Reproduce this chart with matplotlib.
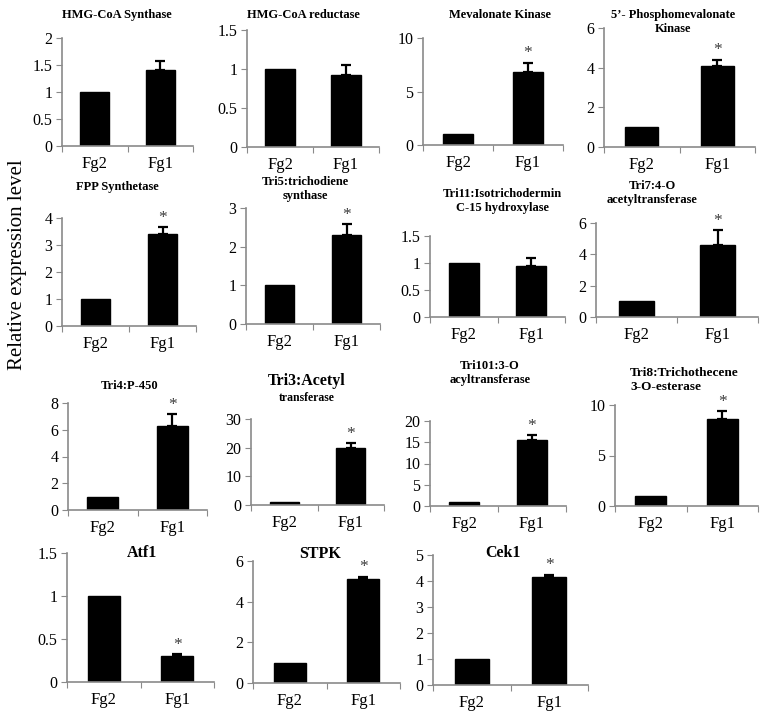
import matplotlib
matplotlib.use("Agg")
import matplotlib.pyplot as plt
from matplotlib.ticker import FuncFormatter

plt.rcParams['font.family'] = ['Liberation Serif', 'DejaVu Serif']

strains = ["Fg2", "Fg1"]

titles = ["HMG-CoA Synthase", "HMG-CoA reductase", "Mevalonate Kinase",
          "5\u2019- Phosphomevalonate\nKinase",
          "FPP Synthetase", "Tri5:trichodiene\nsynthase",
          "Tri11:Isotrichodermin\nC-15 hydroxylase", "Tri7:4-O\nacetyltransferase",
          "Tri4:P-450", "Tri3:Acetyl", "Tri101:3-O\nacyltransferase",
          "Tri8:Trichothecene\n3-O-esterase",
          "Atf1", "STPK", "Cek1"]
fg2_values = [1, 1, 1, 1, 1, 1, 1, 1, 1, 1, 1, 1, 1, 1, 1]
fg1_values = [1.4, 0.92, 6.8, 4.1, 3.4, 2.3, 0.95, 4.6, 6.3, 20, 15.5, 8.6, 0.3, 5.1, 4.15]
fg1_errors = [0.18, 0.13, 0.9, 0.3, 0.25, 0.28, 0.15, 0.95, 0.85, 1.5, 1.1, 0.8, 0.02, 0.12, 0.1]
y_max = [2, 1.5, 10, 6, 4, 3, 1.5, 6, 8, 30, 20, 10, 1.5, 6, 5]
y_step = [0.5, 0.5, 5, 2, 1, 1, 0.5, 2, 2, 10, 5, 5, 0.5, 2, 1]
significant = [False, False, True, True, True, True, False, True,
               True, True, True, True, True, True, True]

# axes boxes in pixels: left, right, top (y of max tick), bottom (y of 0)
boxes = [(62, 193, 38, 146), (247, 379, 30, 147), (423, 563, 38, 145), (604, 755, 28, 147),
         (62, 196, 218, 326), (246, 380, 208, 324), (430, 565, 236, 317), (596, 758, 223, 317),
         (68, 207, 403, 510), (251, 384, 419, 505), (430, 566, 421, 506), (615, 758, 405, 506),
         (67, 214, 553, 682), (253, 400, 561, 683), (433, 588, 555, 685)]
# title anchor in pixels: x centre, y centre
title_pos = [(117, 15), (303, 15), (500, 15), (673, 22),
             (117, 187), (305, 189), (502, 201), (652, 193),
             (130, 386), (307, 381), (490, 373), (630, 380),
             (142, 553), (320, 554), (503, 553)]

W, H = 766, 723
fig = plt.figure(figsize=(W / 100, H / 100), dpi=100)
spine_col = "#8a8a8a"

for i in range(len(titles)):
    l, r, t, b = boxes[i]
    ax = fig.add_axes([l / W, 1 - b / H, (r - l) / W, (b - t) / H])
    ax.bar([0.5, 1.5], [fg2_values[i], fg1_values[i]], width=0.44,
           color="black", edgecolor="black")
    ax.errorbar([1.5], [fg1_values[i]], yerr=[[0], [fg1_errors[i]]], fmt="none",
                ecolor="black", elinewidth=1.6, capsize=3.5, capthick=1.6)
    if significant[i]:
        top = fg1_values[i] + fg1_errors[i]
        ax.text(1.5, top + y_max[i] * 0.015, "*", ha="center", va="bottom",
                fontsize=12.5, color="#3c3c3c")
    ax.set_xlim(0, 2)
    ax.set_ylim(0, y_max[i])
    n = int(round(y_max[i] / y_step[i]))
    ax.set_yticks([k * y_step[i] for k in range(n + 1)])
    ax.yaxis.set_major_formatter(FuncFormatter(lambda v, p: "%g" % v))
    ax.set_xticks([0, 1, 2])
    ax.set_xticklabels([])
    ax.set_xticks([0.5, 1.5], minor=True)
    ax.set_xticklabels(strains, minor=True, fontsize=12)
    ax.tick_params(axis="x", which="minor", length=0, pad=7)
    ax.tick_params(axis="x", which="major", length=4, color=spine_col, direction="out")
    ax.tick_params(axis="y", length=4, color=spine_col, labelsize=11.5, pad=3)
    for s in ["top", "right"]:
        ax.spines[s].set_visible(False)
    for s in ["left", "bottom"]:
        ax.spines[s].set_color(spine_col)
        ax.spines[s].set_linewidth(1.2)

    tx, ty = title_pos[i]
    if i == 9:
        fig.text(tx / W, 1 - ty / H, "Tri3:Acetyl", ha="center", va="center",
                 fontsize=11.5, fontweight="bold")
        fig.text(tx / W, 1 - 398 / H, "transferase", ha="center", va="center",
                 fontsize=8.5, fontweight="bold")
    elif i == 11:
        fig.text(tx / W, 1 - ty / H, titles[i], ha="left", va="center",
                 fontsize=9.5, fontweight="bold", linespacing=1.3)
    elif i >= 12:
        fig.text(tx / W, 1 - ty / H, titles[i], ha="center", va="center",
                 fontsize=11.5, fontweight="bold")
    else:
        fig.text(tx / W, 1 - ty / H, titles[i], ha="center", va="center",
                 fontsize=9, fontweight="bold", linespacing=1.3)

fig.text(18 / W, 1 - 265 / H, "Relative expression level", rotation=90,
         ha="center", va="center", fontsize=15)

fig.savefig("out.png", dpi=100)
